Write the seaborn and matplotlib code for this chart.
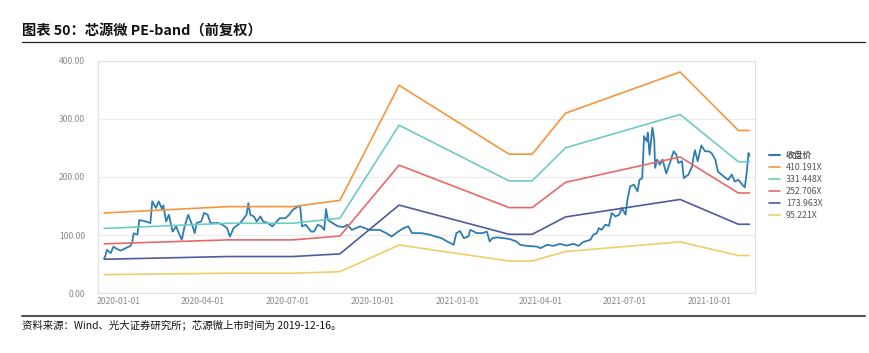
import numpy as np
import pandas as pd
import matplotlib
matplotlib.use("Agg")
import matplotlib.pyplot as plt
import matplotlib.dates as mdates
from matplotlib.lines import Line2D
import seaborn as sns

# ------------------------------
#  Data
# ------------------------------

# closing price (forward adjusted)
price_dates = [
    "2019-12-16", "2019-12-17", "2019-12-19", "2019-12-23", "2019-12-26", "2019-12-30",
    "2020-01-03", "2020-01-10", "2020-01-13", "2020-01-15", "2020-01-17", "2020-01-21",
    "2020-01-23", "2020-01-30", "2020-02-04", "2020-02-06", "2020-02-10", "2020-02-13",
    "2020-02-17", "2020-02-18", "2020-02-21", "2020-02-24", "2020-02-28", "2020-03-03",
    "2020-03-05", "2020-03-09", "2020-03-12", "2020-03-16", "2020-03-17", "2020-03-20",
    "2020-03-23", "2020-03-25", "2020-03-30", "2020-04-02", "2020-04-06", "2020-04-09",
    "2020-04-14", "2020-04-17", "2020-04-22", "2020-04-27", "2020-04-30", "2020-05-04",
    "2020-05-11", "2020-05-14", "2020-05-18", "2020-05-20", "2020-05-22", "2020-05-26",
    "2020-05-29", "2020-06-02", "2020-06-05", "2020-06-10", "2020-06-15", "2020-06-18",
    "2020-06-23", "2020-06-29", "2020-07-03", "2020-07-07", "2020-07-13", "2020-07-15",
    "2020-07-17", "2020-07-21", "2020-07-27", "2020-07-30", "2020-08-03", "2020-08-07",
    "2020-08-10", "2020-08-12", "2020-08-14", "2020-08-19", "2020-08-25", "2020-08-31",
    "2020-09-04", "2020-09-09", "2020-09-18", "2020-09-28", "2020-10-09", "2020-10-16",
    "2020-10-22", "2020-10-29", "2020-11-04", "2020-11-09", "2020-11-13", "2020-11-23",
    "2020-12-03", "2020-12-08", "2020-12-15", "2020-12-21", "2020-12-25", "2020-12-28",
    "2020-12-31", "2021-01-04", "2021-01-08", "2021-01-13", "2021-01-15", "2021-01-19",
    "2021-01-22", "2021-01-28", "2021-02-02", "2021-02-05", "2021-02-08", "2021-02-13",
    "2021-02-20", "2021-02-27", "2021-03-06", "2021-03-10", "2021-03-17", "2021-03-28",
    "2021-04-01", "2021-04-08", "2021-04-15", "2021-04-22", "2021-04-29", "2021-05-07",
    "2021-05-12", "2021-05-17", "2021-05-25", "2021-05-28", "2021-06-01", "2021-06-03",
    "2021-06-06", "2021-06-10", "2021-06-14", "2021-06-17", "2021-06-21", "2021-06-25",
    "2021-06-28", "2021-07-02", "2021-07-04", "2021-07-07", "2021-07-11", "2021-07-15",
    "2021-07-17", "2021-07-20", "2021-07-22", "2021-07-25", "2021-07-26", "2021-07-28",
    "2021-07-31", "2021-08-02", "2021-08-03", "2021-08-05", "2021-08-08", "2021-08-11",
    "2021-08-15", "2021-08-19", "2021-08-23", "2021-08-26", "2021-08-28", "2021-09-01",
    "2021-09-03", "2021-09-08", "2021-09-12", "2021-09-13", "2021-09-15", "2021-09-18",
    "2021-09-22", "2021-09-26", "2021-09-30", "2021-10-03", "2021-10-07", "2021-10-10",
    "2021-10-16", "2021-10-21", "2021-10-25", "2021-10-28", "2021-11-01", "2021-11-05",
    "2021-11-08", "2021-11-10", "2021-11-12", "2021-11-13",
]
price_values = [
    60, 63, 74.6, 69, 80, 76,
    73.4, 79, 81, 86, 103, 101,
    126, 123.4, 120.7, 158, 146.6, 158,
    143.6, 151, 123.4, 135, 106, 115,
    106, 92, 115, 135, 130, 118,
    103.4, 120.7, 123.4, 138, 135, 120.7,
    120.7, 121, 117.8, 112, 97.6, 112,
    120.7, 126.4, 135, 155, 135, 132,
    123.4, 132, 123.4, 120.7, 115, 120.7,
    129, 129, 135, 143.6, 149.3, 149.3,
    115, 117.8, 106, 106, 117.8, 115,
    109, 144.8, 126, 120.7, 115, 114,
    117.8, 109, 115, 109, 109, 103.4,
    97.6, 106, 112, 115, 103.4, 103.4,
    100.5, 97.6, 94.8, 89, 86, 83.3,
    103.4, 107, 94.8, 97.6, 109, 106,
    103.4, 103.4, 106, 89, 94.8, 96,
    94.8, 93, 89, 83.3, 81.5, 80.3,
    77.6, 83.3, 81.5, 85, 82, 85,
    81.5, 88, 92, 100.5, 103.4, 112,
    109, 117.8, 116, 138, 132, 135,
    146.6, 135, 160.8, 183.8, 186.7, 175,
    195, 198, 270, 261, 276, 238,
    284.5, 264, 215.5, 229.8, 221, 229.8,
    206, 224, 244, 238, 224, 227,
    198, 204, 218, 230, 246, 227,
    254, 244, 244, 241, 230, 209,
    201, 195, 204, 192, 195, 187,
    182, 207, 241, 236,
]

# EPS knots behind the bands (band = PE multiple x EPS)
eps_dates = [
    "2019-12-16", "2020-04-28", "2020-07-07", "2020-08-27", "2020-10-30", "2021-02-26",
    "2021-03-23", "2021-04-28", "2021-08-30", "2021-11-01", "2021-11-13",
]
eps_values = [0.3364, 0.3632, 0.3632, 0.3893, 0.8713, 0.5827,
              0.5827, 0.7543, 0.9271, 0.6821, 0.6821]

pe_multiples = [410.191, 331.448, 252.706, 173.963, 95.221]
pe_labels = ["410.191X", "331.448X", "252.706X", "173.963X", "95.221X"]

price_color = "#2f7db0"
band_colors = ["#f7953b", "#6ecac5", "#e8696b", "#505a9c", "#f0cd68"]

# ------------------------------
#  Tables
# ------------------------------

price_df = pd.DataFrame({"date": pd.to_datetime(price_dates), "close": price_values})

band_df = pd.DataFrame({
    "date": np.tile(pd.to_datetime(eps_dates), len(pe_multiples)),
    "band": np.repeat(pe_labels, len(eps_dates)),
    "value": np.concatenate([np.array(eps_values) * pe for pe in pe_multiples]),
})

# ------------------------------
#  Plot
# ------------------------------

sns.set_theme(style="white")
plt.rcParams["font.family"] = ["Noto Sans CJK SC", "DejaVu Sans"]

fig = plt.figure(figsize=(8.7, 3.53), dpi=100)
ax = fig.add_axes([0.1123, 0.1691, 0.7555, 0.6595])

sns.lineplot(data=price_df, x="date", y="close", ax=ax, color=price_color,
             linewidth=1.3, label="收盘价", estimator=None, sort=False)
sns.lineplot(data=band_df, x="date", y="value", hue="band", palette=band_colors,
             hue_order=pe_labels, ax=ax, linewidth=1.2, estimator=None)

ax.set_xlim(pd.Timestamp("2019-12-09"), pd.Timestamp("2021-11-19"))
ax.set_ylim(0, 400)
ax.set_yticks([0, 100, 200, 300, 400])
ax.yaxis.set_major_formatter(matplotlib.ticker.FormatStrFormatter("%.2f"))
ax.xaxis.set_major_locator(mdates.MonthLocator(bymonth=[1, 4, 7, 10]))
ax.xaxis.set_major_formatter(mdates.DateFormatter("%Y-%m-%d"))
ax.set_xlabel("")
ax.set_ylabel("")

ax.grid(axis="y", color="#ebebeb", linewidth=0.8)
for s in ax.spines.values():
    s.set_color("#dde3ee")
    s.set_linewidth(0.9)
ax.tick_params(axis="x", direction="in", length=4, color="#c9d3e6", width=0.8,
               labelsize=6.2, labelcolor="#8a8a8a", pad=3)
ax.tick_params(axis="y", length=0, labelsize=6.2, labelcolor="#8a8a8a", pad=9)

handles = [Line2D([], [], color=price_color, linewidth=1.5)]
handles += [Line2D([], [], color=c, linewidth=1.2) for c in band_colors]
ax.legend_.remove()
leg = fig.legend(handles, ["收盘价"] + pe_labels, loc="upper left",
                 bbox_to_anchor=(0.875, 0.595), frameon=False, fontsize=6.3,
                 handlelength=1.3, handletextpad=0.6, labelspacing=0.35,
                 labelcolor="#555555")
leg.get_texts()[0].set_fontweight("bold")

# header and footer
fig.text(0.0253, 0.912, "图表 50：芯源微 PE-band（前复权）", fontsize=10.3,
         fontweight="bold", va="center", ha="left", color="#111111")
fig.add_artist(Line2D([0.0253, 0.994], [0.881, 0.881], color="#222222", linewidth=0.9))
fig.add_artist(Line2D([0.0253, 0.994], [0.105, 0.105], color="#555555", linewidth=1.5))
fig.text(0.0253, 0.080, "资料来源：Wind、光大证券研究所；芯源微上市时间为 2019-12-16。",
         fontsize=7.5, va="center", ha="left", color="#111111")

fig.savefig("out.png", dpi=100)
